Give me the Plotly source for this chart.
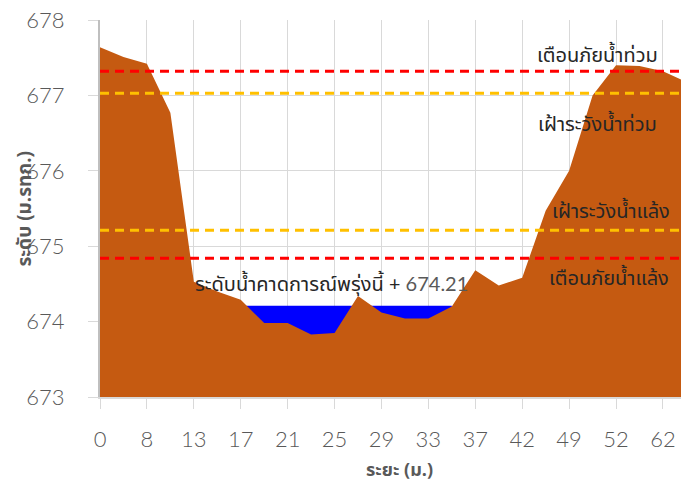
import plotly.graph_objects as go

# ---- data ----
tick_labels = ["0", "8", "13", "17", "21", "25", "29", "33", "37", "42", "49", "52", "62"]
ground_level = [677.64, 677.51, 677.42, 676.77, 674.53, 674.40, 674.29, 673.98, 673.98,
                673.83, 673.85, 674.34, 674.12, 674.04, 674.04, 674.20, 674.68, 674.48,
                674.58, 675.47, 676.00, 677.00, 677.40, 677.39, 677.32, 677.18]
forecast_level = 674.21
forecast_idx = list(range(6, 16))
flood_warning = 677.32
flood_watch = 677.03
drought_watch = 675.21
drought_warning = 674.84

idx = list(range(len(ground_level)))
tick_idx = list(range(0, 2 * len(tick_labels), 2))

THAI = "Noto Sans Thai, Noto Sans Thai Looped, Leelawadee UI, Tahoma, sans-serif"
NUM = "Lato, Open Sans, sans-serif"
GREY = "#595959"

fig = go.Figure()
fig.add_trace(go.Scatter(x=forecast_idx, y=[forecast_level] * len(forecast_idx),
                         mode="lines", line=dict(width=0, color="#0000FF"),
                         fill="tozeroy", fillcolor="#0000FF", hoverinfo="skip"))
fig.add_trace(go.Scatter(x=idx, y=ground_level, mode="lines",
                         line=dict(width=0, color="#C55A11"),
                         fill="tozeroy", fillcolor="#C55A11"))
for val, col in [(flood_warning, "#FF0000"), (flood_watch, "#FFC000"),
                 (drought_watch, "#FFC000"), (drought_warning, "#FF0000")]:
    fig.add_trace(go.Scatter(x=[idx[0], idx[-1]], y=[val, val], mode="lines",
                             line=dict(color=col, width=3, dash="9px,6px")))

ann = [
    ("เตือนภัยน้ำท่วม", 21.2, 677.52),
    ("เฝ้าระวังน้ำท่วม", 21.2, 676.61),
    ("เฝ้าระวังน้ำแล้ง", 21.8, 675.45),
    ("เตือนภัยน้ำแล้ง", 21.7, 674.56),
]
for t, x, y in ann:
    fig.add_annotation(x=x, y=y, text=t, showarrow=False, xanchor="center", yanchor="middle",
                       font=dict(family=THAI, size=20, color="#262626"))
fig.add_annotation(x=3.96, y=674.49, xanchor="left", yanchor="middle", showarrow=False,
                   text="ระดับน้ำคาดการณ์พรุ่งนี้ + <span style='color:#595959;font-family:Lato'>%.2f</span>" % forecast_level,
                   font=dict(family=THAI, size=20, color="#262626"))

fig.add_annotation(xref="paper", yref="paper", x=-0.129, y=0.5, text="<b>ระดับ (ม.รทก.)</b>",
                   textangle=-90, showarrow=False, xanchor="center", yanchor="middle",
                   font=dict(family=THAI, size=19, color=GREY))
fig.add_annotation(xref="paper", yref="paper", x=0.515, y=-0.194, text="<b>ระยะ (ม.)</b>",
                   showarrow=False, xanchor="center", yanchor="middle",
                   font=dict(family=THAI, size=18, color=GREY))

fig.update_layout(
    width=681, height=483, margin=dict(l=100, r=0, t=20, b=86),
    plot_bgcolor="white", paper_bgcolor="white", showlegend=False,
    xaxis=dict(range=[0, 24.77], tickmode="array", tickvals=tick_idx, ticktext=tick_labels,
               showgrid=True, gridcolor="#D9D9D9", gridwidth=1, zeroline=False,
               showline=True, linecolor="#D9D9D9", linewidth=2,
               ticks="outside", ticklen=10, tickcolor="#D9D9D9", ticklabeloverflow="allow",
               tickfont=dict(family=NUM, size=22, color=GREY, weight=300), ticklabelstandoff=12),
    yaxis=dict(range=[673, 678], dtick=1, showgrid=True, gridcolor="#D9D9D9", gridwidth=1,
               zeroline=False, showline=True, linecolor="#BFBFBF", linewidth=2,
               ticks="outside", ticklen=10, tickcolor="#D9D9D9", ticklabeloverflow="allow",
               tickfont=dict(family=NUM, size=22, color=GREY, weight=300), ticklabelstandoff=19),
)
fig.write_html("out.html", config={"displayModeBar": False},
               post_script="document.body.style.margin='0px';document.body.style.overflow='hidden';")
